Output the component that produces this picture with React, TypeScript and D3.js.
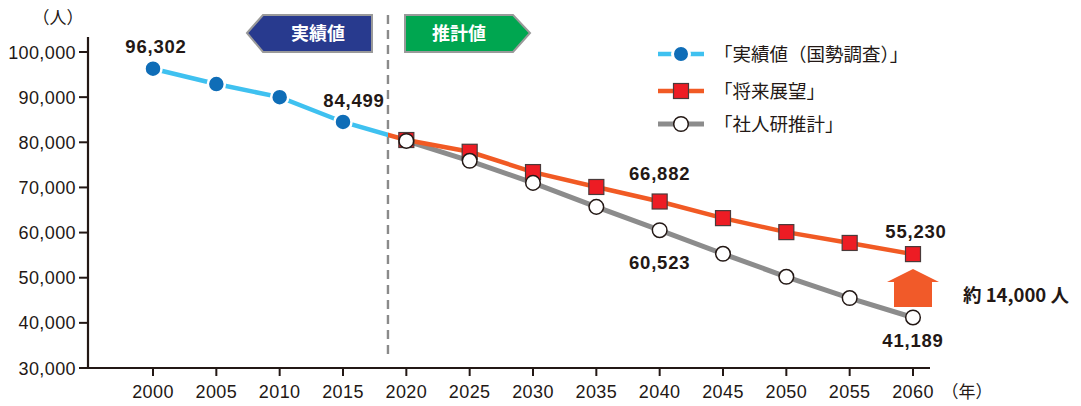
import React from "react";
import * as d3 from "d3";

const actualYears = [2000, 2005, 2010, 2015];
const actualValues = [96302, 92900, 90000, 84499];
const projYears = [2020, 2025, 2030, 2035, 2040, 2045, 2050, 2055, 2060];
const visionValues = [80500, 77900, 73400, 70100, 66882, 63200, 60100, 57700, 55230];
const ipssValues = [80300, 75900, 71000, 65700, 60523, 55300, 50200, 45500, 41189];
const xTicks = [2000, 2005, 2010, 2015, 2020, 2025, 2030, 2035, 2040, 2045, 2050, 2055, 2060];
const yTicks = [30000, 40000, 50000, 60000, 70000, 80000, 90000, 100000];
const legendLabels = ["「実績値（国勢調査）」", "「将来展望」", "「社人研推計」"];
const dividerYear = 2018.55;

const NUM_FONT = "'Liberation Sans', Arial, 'Noto Sans CJK JP', sans-serif";
const JP_FONT = "'Noto Sans CJK JP', 'Liberation Sans', sans-serif";

export default function App() {
  const x = d3.scaleLinear().domain([2000, 2060]).range([153, 913]);
  const y = d3.scaleLinear().domain([30000, 100000]).range([368, 52]);
  const fmt = d3.format(",");
  const line = d3.line<[number, number]>().x((d) => x(d[0])).y((d) => y(d[1]));

  const bluePts: [number, number][] = [
    ...actualYears.map((yr, i) => [yr, actualValues[i]] as [number, number]),
    [projYears[0], visionValues[0]],
  ];
  const orangePts: [number, number][] = [
    [actualYears[actualYears.length - 1], actualValues[actualValues.length - 1]],
    ...projYears.map((yr, i) => [yr, visionValues[i]] as [number, number]),
  ];
  const grayPts: [number, number][] = projYears.map((yr, i) => [yr, ipssValues[i]]);
  const dx = x(dividerYear);

  const labelStyle = { fontFamily: NUM_FONT, fontWeight: 700, fontSize: 18.5, fill: "#231815", letterSpacing: 0.8 } as const;
  const tickStyle = { fontFamily: NUM_FONT, fontSize: 18, fill: "#231815", letterSpacing: 0.4 } as const;

  return (
    <svg width={1081} height={406} style={{ position: "absolute", left: 0, top: 0, background: "#fff" }}>
      <defs>
        <clipPath id="leftClip">
          <rect x={0} y={0} width={dx} height={406} />
        </clipPath>
        <clipPath id="rightClip">
          <rect x={dx} y={0} width={1081 - dx} height={406} />
        </clipPath>
      </defs>

      {/* axes */}
      <line x1={88} x2={88} y1={37} y2={369} stroke="#231815" strokeWidth={2.2} />
      <line x1={87} x2={930} y1={368} y2={368} stroke="#231815" strokeWidth={2.2} />
      {yTicks.map((t) => (
        <g key={t}>
          <line x1={79} x2={88} y1={y(t)} y2={y(t)} stroke="#231815" strokeWidth={2} />
          <text x={76} y={y(t) + 6.5} textAnchor="end" style={tickStyle}>
            {fmt(t)}
          </text>
        </g>
      ))}
      {xTicks.map((t) => (
        <g key={t}>
          <line x1={x(t)} x2={x(t)} y1={368} y2={376} stroke="#231815" strokeWidth={2} />
          <text x={x(t)} y={398} textAnchor="middle" style={tickStyle}>
            {t}
          </text>
        </g>
      ))}
      <text x={58} y={24} textAnchor="middle" style={{ fontFamily: JP_FONT, fontSize: 17, fill: "#231815" }}>
        （人）
      </text>
      <text x={967} y={398} textAnchor="middle" style={{ fontFamily: JP_FONT, fontSize: 17, fill: "#231815" }}>
        （年）
      </text>

      {/* divider */}
      <line x1={dx} x2={dx} y1={15} y2={357} stroke="#8a8a8a" strokeWidth={2.4} strokeDasharray="9,6" />

      {/* badges */}
      <polygon points="247,33 263,15 372,15 372,52 263,52" fill="#283a8e" stroke="#9a9a9a" strokeWidth={2} />
      <text x={318} y={40} textAnchor="middle" style={{ fontFamily: JP_FONT, fontWeight: 700, fontSize: 18, fill: "#fff" }}>
        実績値
      </text>
      <polygon points="405,15 513,15 530,33 513,52 405,52" fill="#00a650" stroke="#9a9a9a" strokeWidth={2} />
      <text x={459} y={40} textAnchor="middle" style={{ fontFamily: JP_FONT, fontWeight: 700, fontSize: 18, fill: "#fff" }}>
        推計値
      </text>

      {/* lines */}
      <path d={line(grayPts) ?? ""} fill="none" stroke="#8c8c8c" strokeWidth={5} />
      <path d={line(orangePts) ?? ""} fill="none" stroke="#f15a24" strokeWidth={4.5} clipPath="url(#rightClip)" />
      <path d={line(bluePts) ?? ""} fill="none" stroke="#3fc1f0" strokeWidth={4.5} clipPath="url(#leftClip)" />

      {/* markers */}
      {actualYears.map((yr, i) => (
        <circle key={yr} cx={x(yr)} cy={y(actualValues[i])} r={8.5} fill="#0f6db7" stroke="#fff" strokeWidth={2.5} />
      ))}
      {projYears.map((yr, i) => (
        <rect key={"s" + yr} x={x(yr) - 7.5} y={y(visionValues[i]) - 7.5} width={15} height={15} fill="#ed1c24" stroke="#4a3a3a" strokeWidth={1.2} />
      ))}
      {projYears.map((yr, i) => (
        <circle key={"c" + yr} cx={x(yr)} cy={y(ipssValues[i])} r={7.3} fill="#fff" stroke="#231815" strokeWidth={1.5} />
      ))}

      {/* value labels */}
      <text x={x(2000) + 3} y={53} textAnchor="middle" style={labelStyle}>{fmt(actualValues[0])}</text>
      <text x={x(2015) + 11} y={107} textAnchor="middle" style={labelStyle}>{fmt(actualValues[3])}</text>
      <text x={x(2040)} y={180} textAnchor="middle" style={labelStyle}>{fmt(visionValues[4])}</text>
      <text x={x(2040)} y={269} textAnchor="middle" style={labelStyle}>{fmt(ipssValues[4])}</text>
      <text x={x(2060) + 3} y={238} textAnchor="middle" style={labelStyle}>{fmt(visionValues[8])}</text>
      <text x={x(2060)} y={347} textAnchor="middle" style={labelStyle}>{fmt(ipssValues[8])}</text>

      {/* difference arrow */}
      <polygon points="887,282 913,269 939,282 932,282 932,307 894,307 894,282" fill="#f15a29" />
      <text x={963} y={302} style={{ fontFamily: JP_FONT, fontWeight: 700, fontSize: 18.5, fill: "#231815" }}>
        約 14,000 人
      </text>

      {/* legend */}
      {legendLabels.map((lab, i) => {
        const ly = [54, 91, 124][i];
        return (
          <g key={lab}>
            {i === 0 && (
              <>
                <line x1={658} x2={704} y1={ly} y2={ly} stroke="#3fc1f0" strokeWidth={4.5} />
                <circle cx={681} cy={ly} r={8.5} fill="#0f6db7" stroke="#fff" strokeWidth={3} />
              </>
            )}
            {i === 1 && (
              <>
                <line x1={658} x2={704} y1={ly} y2={ly} stroke="#f15a24" strokeWidth={4.5} />
                <rect x={673.5} y={ly - 7.5} width={15} height={15} fill="#ed1c24" stroke="#4a3a3a" strokeWidth={1.2} />
              </>
            )}
            {i === 2 && (
              <>
                <line x1={658} x2={704} y1={ly} y2={ly} stroke="#8c8c8c" strokeWidth={5} />
                <circle cx={681} cy={ly} r={7.3} fill="#fff" stroke="#231815" strokeWidth={1.5} />
              </>
            )}
            <text x={714} y={ly + 6.5} style={{ fontFamily: JP_FONT, fontSize: 18.5, fill: "#231815" }}>
              {lab}
            </text>
          </g>
        );
      })}
    </svg>
  );
}
